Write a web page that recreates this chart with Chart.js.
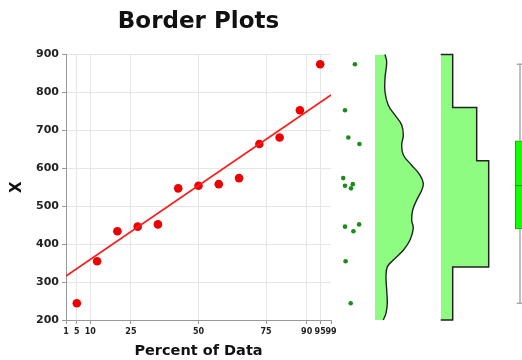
<!DOCTYPE html>
<html>
<head>
<meta charset="utf-8">
<script src="https://cdn.jsdelivr.net/npm/chart.js@4/dist/chart.umd.min.js"></script>
<style>
  html, body { margin: 0; padding: 0; background: #fff; }
  #wrap { position: relative; width: 522px; height: 360px; overflow: hidden; }
  #wrap canvas { position: absolute; left: 0; top: 0; }
</style>
</head>
<body>
<div id="wrap">
  <canvas id="mainChart" width="522" height="360"></canvas>
  <canvas id="dotChart" width="522" height="360"></canvas>
  <canvas id="densityChart" width="522" height="360"></canvas>
  <canvas id="histChart" width="522" height="360"></canvas>
  <canvas id="boxChart" width="540" height="360"></canvas>
</div>
<script>
// DATA
const percentOfData = [5, 12.5, 20, 27.5, 35, 42.5, 50, 57.5, 65, 72.5, 80, 87.5, 95];
const xValues = [244, 355, 434, 446, 452, 547, 554, 558, 574, 664, 681, 753, 874];
const percentTicks = [1, 5, 10, 25, 50, 75, 90, 95, 99];
const fitPercent = [1, 99];
const fitValues = [316, 793];

// strip (dot) plot - horizontal spread of each dot
const dotJitter = [0.49, 0.32, 0.58, 0.3, 0.77, 0.5, 0.3, 0.56, 0.24, 0.78, 0.41, 0.3, 0.63];

// density curve
const densityAt = [200, 218, 244, 279, 314, 340, 358, 384, 411, 442, 463, 490, 516, 542, 560, 582, 608, 635, 661, 687, 714, 740, 766, 801, 837, 880, 900];
const densityVal = [8.3, 11, 12.3, 11.7, 11, 12.3, 18.3, 28.3, 35, 38.3, 36.7, 37.7, 41.7, 46.7, 48.3, 45, 36.7, 28.3, 26.7, 28.3, 26.7, 20, 13.3, 10, 10, 11.7, 10];

// histogram bins
const binEdges = [200, 340, 480, 620, 760, 900];

//HELPERS
const binCounts = binEdges.slice(0, -1).map((lo, i) =>
  xValues.filter(v => v >= lo && v < binEdges[i + 1]).length);

let histPoints = [{x: 0, y: binEdges[0]}];
binCounts.forEach((c, i) => {
  histPoints.push({x: c, y: binEdges[i]});
  histPoints.push({x: c, y: binEdges[i + 1]});
});
histPoints.push({x: 0, y: binEdges[binEdges.length - 1]});

const sorted = [...xValues].sort((a, b) => a - b);
function median(arr) {
  const m = Math.floor(arr.length / 2);
  return arr.length % 2 ? arr[m] : (arr[m - 1] + arr[m]) / 2;
}
const half = Math.floor(sorted.length / 2);
const q1 = median(sorted.slice(0, half));
const q3 = median(sorted.slice(sorted.length - half));
const med = median(sorted);
const lo = sorted[0], hi = sorted[sorted.length - 1];

const boldFont = size => ({family: 'DejaVu Sans', size: size, weight: 'bold'});
const plotTop = 54.4, plotBottom = 40;
const hiddenY = {type: 'linear', min: 200, max: 900, display: false};
const noPlugins = {legend: {display: false}, tooltip: {enabled: false}};

// MAIN PLOT
new Chart(document.getElementById('mainChart'), {
  type: 'scatter',
  data: {
    datasets: [
      {
        type: 'line',
        data: fitPercent.map((p, i) => ({x: p, y: fitValues[i]})),
        borderColor: '#ff1a1a',
        borderWidth: 1.7,
        pointRadius: 0,
        fill: false,
      },
      {
        data: percentOfData.map((p, i) => ({x: p, y: xValues[i]})),
        backgroundColor: '#ee0000',
        borderWidth: 0,
        pointRadius: 4.3,
      },
    ],
  },
  options: {
    responsive: false,
    animation: false,
    layout: {padding: {left: 0, right: 191, top: 0, bottom: 0}},
    plugins: {
      legend: {display: false},
      tooltip: {enabled: false},
      title: {
        display: true,
        text: 'Border Plots',
        fullSize: false,
        color: '#111',
        font: boldFont(23),
        padding: {top: 8, bottom: 18.8},
      },
    },
    scales: {
      x: {
        type: 'linear',
        min: 1,
        max: 99,
        afterFit: s => { s.height = 40; },
        afterBuildTicks: s => { s.ticks = percentTicks.map(v => ({value: v})); },
        ticks: {
          autoSkip: false,
          maxRotation: 0,
          padding: 3,
          color: '#222',
          font: boldFont(8),
          callback: v => String(v),
        },
        grid: {
          color: c => (c.tick && c.tick.value === 99) ? 'rgba(0,0,0,0)' : '#e6e6e6',
          tickColor: '#999',
          tickLength: 4,
        },
        border: {color: '#999', width: 1},
        title: {
          display: true,
          text: 'Percent of Data',
          color: '#111',
          font: boldFont(14.5),
          padding: {top: 0, bottom: 0},
        },
      },
      y: {
        type: 'linear',
        min: 200,
        max: 900,
        afterFit: s => { s.width = 66; },
        ticks: {stepSize: 100, padding: 3, color: '#222', font: boldFont(11)},
        grid: {color: '#e6e6e6', tickColor: '#999', tickLength: 4},
        border: {color: '#999', width: 1},
        title: {
          display: true,
          text: 'X',
          color: '#111',
          font: boldFont(15),
          padding: {top: 8.5, bottom: 0},
        },
      },
    },
  },
});

// DOT STRIP
new Chart(document.getElementById('dotChart'), {
  type: 'scatter',
  data: {
    datasets: [{
      data: xValues.map((v, i) => ({x: dotJitter[i], y: v})),
      backgroundColor: '#1a8c1a',
      borderWidth: 0,
      pointRadius: 2.3,
      clip: false,
    }],
  },
  options: {
    responsive: false,
    animation: false,
    layout: {padding: {left: 336, right: 156, top: plotTop, bottom: plotBottom}},
    plugins: noPlugins,
    scales: {x: {type: 'linear', min: 0, max: 1, display: false}, y: hiddenY},
  },
});

// DENSITY
new Chart(document.getElementById('densityChart'), {
  type: 'line',
  data: {
    datasets: [{
      data: densityAt.map((v, i) => ({x: densityVal[i], y: v})),
      backgroundColor: '#8efc80',
      borderColor: '#222',
      borderWidth: 1.4,
      tension: 0.4,
      pointRadius: 0,
      fill: 'origin',
      clip: 3,
    }],
  },
  options: {
    responsive: false,
    animation: false,
    indexAxis: 'y',
    layout: {padding: {left: 375, right: 87, top: plotTop, bottom: plotBottom}},
    plugins: noPlugins,
    scales: {x: {type: 'linear', min: 0, max: 60, display: false}, y: hiddenY},
  },
});

// HISTOGRAM
new Chart(document.getElementById('histChart'), {
  type: 'line',
  data: {
    datasets: [{
      data: histPoints,
      backgroundColor: '#8efc80',
      borderColor: '#222',
      borderWidth: 1.5,
      tension: 0,
      pointRadius: 0,
      fill: 'origin',
      clip: 3,
    }],
  },
  options: {
    responsive: false,
    animation: false,
    indexAxis: 'y',
    layout: {padding: {left: 440.7, right: 21.3, top: plotTop, bottom: plotBottom}},
    plugins: noPlugins,
    scales: {x: {type: 'linear', min: 0, max: 5, display: false}, y: hiddenY},
  },
});

// BOX PLOT
const whisker = pts => ({
  type: 'line',
  data: pts,
  borderColor: '#aaa',
  borderWidth: 1.5,
  pointRadius: 0,
  order: 2,
  clip: false,
});
new Chart(document.getElementById('boxChart'), {
  type: 'bar',
  data: {
    datasets: [
      {
        data: [{x: 0.5, y: [q1, q3]}],
        backgroundColor: '#11ff00',
        borderColor: '#3c8c3c',
        borderWidth: 1,
        borderSkipped: false,
        barThickness: 9.4,
        order: 1,
      },
      {
        type: 'line',
        data: [{x: 0.265, y: med}, {x: 0.735, y: med}],
        borderColor: '#3a7a3a',
        borderWidth: 1,
        pointRadius: 0,
        order: 0,
      },
      whisker([{x: 0.5, y: lo}, {x: 0.5, y: q1}]),
      whisker([{x: 0.5, y: q3}, {x: 0.5, y: hi}]),
      whisker([{x: 0.335, y: lo}, {x: 0.665, y: lo}]),
      whisker([{x: 0.335, y: hi}, {x: 0.665, y: hi}]),
    ],
  },
  options: {
    responsive: false,
    animation: false,
    layout: {padding: {left: 510, right: 10, top: plotTop, bottom: plotBottom}},
    plugins: noPlugins,
    scales: {
      x: {type: 'linear', min: 0, max: 1, offset: false, display: false},
      y: hiddenY,
    },
  },
});
</script>
</body>
</html>
